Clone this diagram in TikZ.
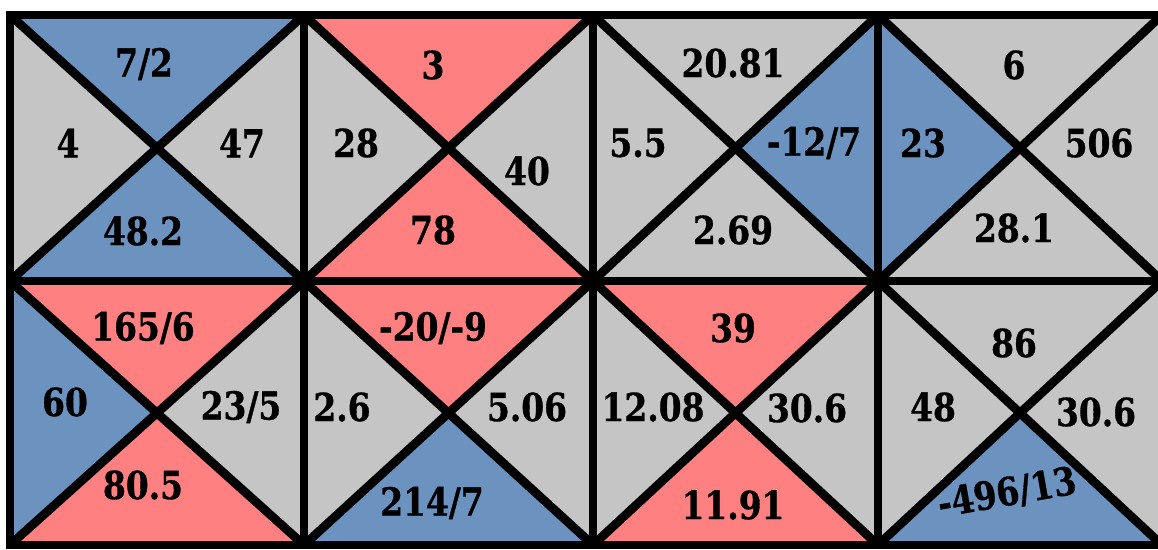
\documentclass[tikz,border=0pt]{standalone}
\usepackage{fontspec}
\setmainfont{DejaVu Serif}
\newfontfamily\numfont{DejaVu Serif Bold}[FakeStretch=0.85,FakeBold=0.8]
\usetikzlibrary{calc}
\usepackage{xcolor}
\definecolor{cellblue}{RGB}{108,146,191}
\definecolor{cellpink}{RGB}{255,128,128}
\definecolor{cellgray}{RGB}{197,197,197}

\begin{document}
\begin{tikzpicture}[
  x=0.02cm,y=-0.02cm,
  num/.style={font={\numfont\fontsize{22}{26}\selectfont},inner sep=0pt,text=black},
  gridline/.style={line width=5pt,black},
  bluetri/.style={fill=cellblue},
  pinktri/.style={fill=cellpink},
]
\useasboundingbox (0,0) rectangle (1158,549);
\clip (0,0) rectangle (1158,549);
% ---- grid corners ----
\coordinate (a0) at (10,15);  \coordinate (a1) at (304,15);  \coordinate (a2) at (593,15);  \coordinate (a3) at (878,15);  \coordinate (a4) at (1162,15);
\coordinate (b0) at (10,281); \coordinate (b1) at (304,281); \coordinate (b2) at (593,281); \coordinate (b3) at (878,281); \coordinate (b4) at (1162,281);
\coordinate (c0) at (10,545); \coordinate (c1) at (304,545); \coordinate (c2) at (593,545); \coordinate (c3) at (878,545); \coordinate (c4) at (1162,545);
% ---- cell centres ----
\coordinate (m11) at ($(a0)!0.5!(b1)$); \coordinate (m12) at ($(a1)!0.5!(b2)$);
\coordinate (m13) at ($(a2)!0.5!(b3)$); \coordinate (m14) at ($(a3)!0.5!(b4)$);
\coordinate (m21) at ($(b0)!0.5!(c1)$); \coordinate (m22) at ($(b1)!0.5!(c2)$);
\coordinate (m23) at ($(b2)!0.5!(c3)$); \coordinate (m24) at ($(b3)!0.5!(c4)$);
% ---- fills ----
\fill[cellgray] (a0) rectangle (c4);
\fill[bluetri] (a0) -- (a1) -- (m11) -- cycle;
\fill[bluetri] (b0) -- (b1) -- (m11) -- cycle;
\fill[pinktri] (a1) -- (a2) -- (m12) -- cycle;
\fill[pinktri] (b1) -- (b2) -- (m12) -- cycle;
\fill[bluetri] (a3) -- (b3) -- (m13) -- cycle;
\fill[bluetri] (a3) -- (b3) -- (m14) -- cycle;
\fill[pinktri] (b0) -- (b1) -- (m21) -- cycle;
\fill[bluetri] (b0) -- (c0) -- (m21) -- cycle;
\fill[pinktri] (c0) -- (c1) -- (m21) -- cycle;
\fill[pinktri] (b1) -- (b2) -- (m22) -- cycle;
\fill[bluetri] (c1) -- (c2) -- (m22) -- cycle;
\fill[pinktri] (b2) -- (b3) -- (m23) -- cycle;
\fill[pinktri] (c2) -- (c3) -- (m23) -- cycle;
\fill[bluetri] (c3) -- (c4) -- (m24) -- cycle;
% ---- grid lines ----
\draw[gridline] (a0) rectangle (c4);
\draw[gridline] (b0) -- (b4);
\draw[gridline] (a1) -- (c1);
\draw[gridline] (a2) -- (c2);
\draw[gridline] (a3) -- (c3);
% ---- diagonals ----
\draw[gridline] (a0) -- (b1) (a1) -- (b0);
\draw[gridline] (a1) -- (b2) (a2) -- (b1);
\draw[gridline] (a2) -- (b3) (a3) -- (b2);
\draw[gridline] (a3) -- (b4) (a4) -- (b3);
\draw[gridline] (b0) -- (c1) (b1) -- (c0);
\draw[gridline] (b1) -- (c2) (b2) -- (c1);
\draw[gridline] (b2) -- (c3) (b3) -- (c2);
\draw[gridline] (b3) -- (c4) (b4) -- (c3);
% ---- top row values ----
\node[num] (t11) at (144,64)  {7/2};
\node[num] (l11) at (68,143)  {4};
\node[num] (r11) at (242,143) {47};
\node[num] (b11) at (143,231) {48.2};
\node[num] (t12) at (433,65)  {3};
\node[num] (l12) at (356,143) {28};
\node[num] (r12) at (527,171) {40};
\node[num] (b12) at (433,230) {78};
\node[num] (t13) at (733,63)  {20.81};
\node[num] (l13) at (638,143) {5.5};
\node[num] (r13) at (814,143) {-12/7};
\node[num] (b13) at (733,230) {2.69};
\node[num] (t14) at (1014,65) {6};
\node[num] (l14) at (923,143) {23};
\node[num] (r14) at (1099,143) {506};
\node[num] (b14) at (1014,228) {28.1};
% ---- bottom row values ----
\node[num] (t21) at (143,328) {165/6};
\node[num] (l21) at (65,402)  {60};
\node[num] (r21) at (241,407) {23/5};
\node[num] (b21) at (143,485) {80.5};
\node[num] (t22) at (433,328) {-20/-9};
\node[num] (l22) at (342,407) {2.6};
\node[num] (r22) at (527,407) {5.06};
\node[num] (b22) at (432,503) {214/7};
\node[num] (t23) at (733,328) {39};
\node[num] (l23) at (653,407) {12.08};
\node[num] (r23) at (807,408) {30.6};
\node[num] (b23) at (733,505) {11.91};
\node[num] (t24) at (1014,343) {86};
\node[num] (l24) at (933,407) {48};
\node[num] (r24) at (1096,412) {30.6};
\node[num,rotate=10] (b24) at (1007,493) {-496/13};
\end{tikzpicture}
\end{document}
